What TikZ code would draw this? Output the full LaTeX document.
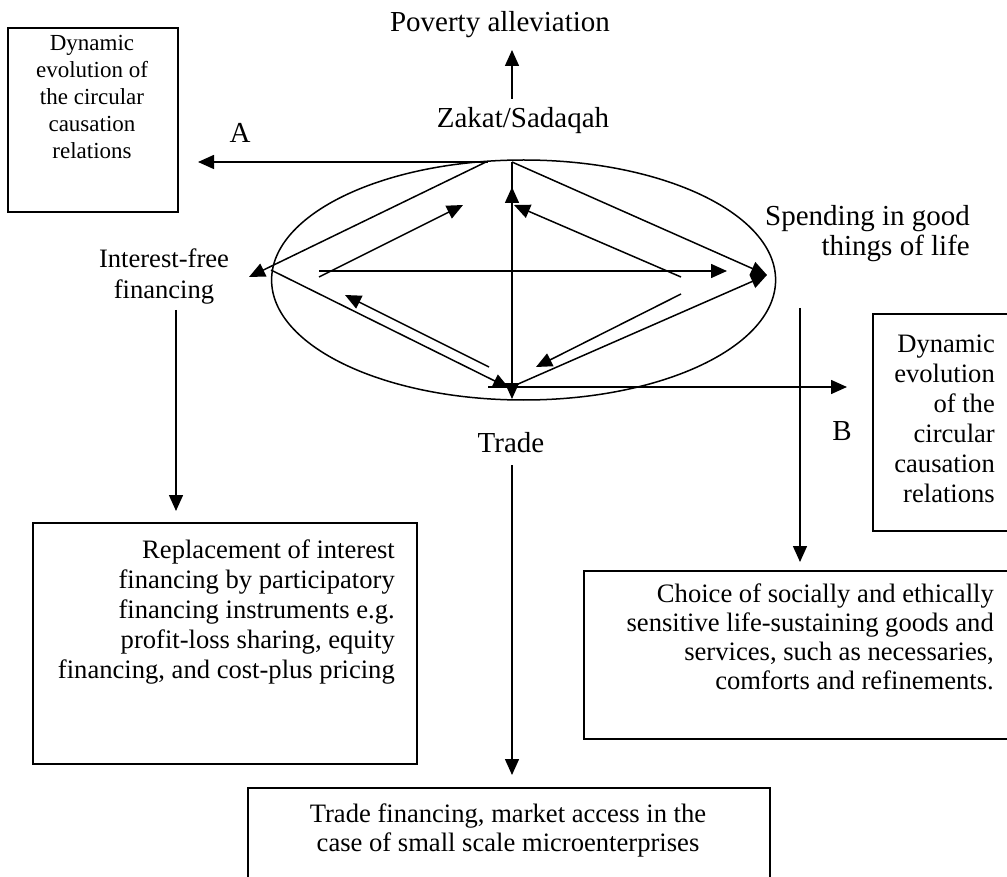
\documentclass[tikz,border=0pt]{standalone}
\usepackage{fontspec}
\setmainfont{Liberation Serif}
\usetikzlibrary{arrows.meta}
\begin{document}
\begin{tikzpicture}[x=1pt,y=-1pt,
  ln/.style={line width=1.5pt},
  arr/.style={ln,-{Triangle[length=16pt,width=14pt]}},
  box/.style={draw,line width=1.6pt,anchor=north west,inner sep=0pt},
  lab/.style={font=\fontsize{29}{30}\selectfont,inner sep=0pt,anchor=base},
  btxt/.style={font=\fontsize{26.6}{30}\selectfont,inner sep=0pt,align=right,anchor=base east},
]
\useasboundingbox (0,0) rectangle (1007,877);

% boxes (multi-line texts are placed by the baseline of their last line)
\node[box,minimum width=170pt,minimum height=184pt] (dynA) at (7,27) {};
\node[font=\fontsize{23}{27}\selectfont,inner sep=0pt,align=center,anchor=base] (dynAt) at (92,159)
  {Dynamic\\evolution of\\the circular\\causation\\relations};
\node[box,minimum width=384pt,minimum height=241pt] (repl) at (32,522) {};
\node[btxt] (replt) at (395,678) {Replacement of interest\\financing by participatory\\financing instruments e.g.\\profit-loss sharing, equity\\financing, and cost-plus pricing};
\node[box,minimum width=522pt,minimum height=100pt] (trbox) at (247,787) {};
\node[font=\fontsize{26.6}{29}\selectfont,inner sep=0pt,align=center,anchor=base] (trt) at (508,851)
  {Trade financing, market access in the\\case of small scale microenterprises};
\node[box,minimum width=430pt,minimum height=168pt] (choice) at (583,570) {};
\node[font=\fontsize{26.6}{29}\selectfont,inner sep=0pt,align=right,anchor=base east] (choicet) at (994,689)
  {Choice of socially and ethically\\sensitive life-sustaining goods and\\services, such as necessaries,\\comforts and refinements.};
\node[box,minimum width=140pt,minimum height=217pt] (dynB) at (872,313) {};
\node[btxt] (dynBt) at (995,502) {Dynamic\\evolution\\of the\\circular\\causation\\relations};

% labels
\node[lab] (pov) at (500,32) {Poverty alleviation};
\node[lab] (zak) at (523,128) {Zakat/Sadaqah};
\node[lab] (A) at (240,143) {A};
\node[lab] (B) at (842,440) {B};
\node[lab] (trade) at (511,452) {Trade};
\node[font=\fontsize{29}{30}\selectfont,inner sep=0pt,align=right,anchor=base east] (spend) at (970,256)
  {Spending in good\\things of life};
\node[font=\fontsize{26.6}{31}\selectfont,inner sep=0pt,align=center,anchor=base] (intf) at (164,299)
  {Interest-free\\financing};

% ellipse
\draw[ln] (523.6,280) ellipse [x radius=252, y radius=120];

% vertices
\coordinate (T1) at (486,162);
\coordinate (T) at (512,162);
\coordinate (L) at (271,270);
\coordinate (Ltip) at (249,277);
\coordinate (R) at (767,275);
\coordinate (Bv) at (509,388);
\coordinate (Bdown) at (512,399);
\coordinate (Up) at (512,187);
\coordinate (Mid) at (512,300);

\draw[arr] (T1) -- (Ltip);
\draw[arr] (L) -- (Bv);
\draw[arr] (T) -- (R);
\draw[arr] (Bv) -- (R);
\draw[arr] (T) -- (Bdown);
\draw[arr] (Mid) -- (Up);
\draw[arr] (319,271) -- (727,271);
\draw[arr] (319,277) -- (463,205);
\draw[arr] (681,277) -- (514,205);
\draw[arr] (681,294) -- (536,367);
\draw[arr] (489,367) -- (345,295);

% outer arrows
\coordinate (Astart) at (488,162);
\coordinate (Aend) at (198,162);
\draw[arr] (Astart) -- (Aend);
\coordinate (Bstart) at (488,387);
\coordinate (Bend) at (847,387);
\draw[arr] (Bstart) -- (Bend);
\coordinate (povs) at (512,99);
\coordinate (pove) at (512,50);
\draw[arr] (povs) -- (pove);
\coordinate (ifs) at (176,310);
\coordinate (ife) at (176,511);
\draw[arr] (ifs) -- (ife);
\coordinate (trs) at (512,465);
\coordinate (tre) at (512,775);
\draw[arr] (trs) -- (tre);
\coordinate (sps) at (800,308);
\coordinate (spe) at (800,562);
\draw[arr] (sps) -- (spe);
\end{tikzpicture}
\end{document}
